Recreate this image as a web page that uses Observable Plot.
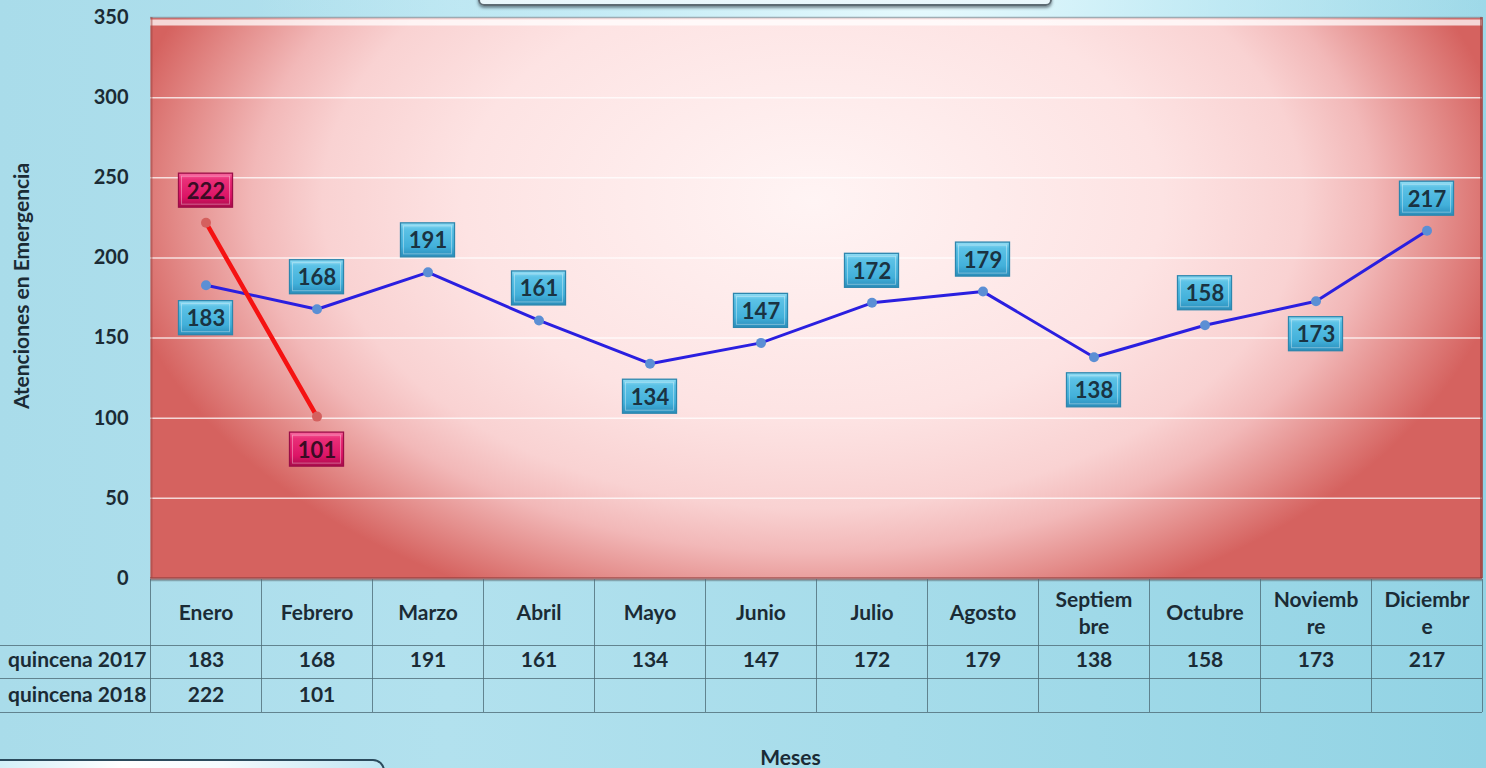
<!DOCTYPE html>
<html><head><meta charset="utf-8">
<script src="https://cdn.jsdelivr.net/npm/d3@7"></script>
<script src="https://cdn.jsdelivr.net/npm/@observablehq/plot@0.6"></script>
<style>
html,body{margin:0;padding:0;width:1486px;height:768px;overflow:hidden}
body{position:relative;font-family:Lato,sans-serif;
 background:
  radial-gradient(ellipse 45% 35% at 62% 0%, rgba(235,252,255,0.95) 0%, rgba(215,245,252,0.6) 45%, rgba(200,240,250,0) 100%),
  linear-gradient(90deg, #a9dcea 0%, #b2e1ee 30%, #a6dcea 60%, #92d3e4 100%);}
#chart{position:absolute;left:0;top:0}
#title-box{position:absolute;left:478px;top:-40px;width:570px;height:42px;border:2px solid #5d6b73;border-radius:6px;
 background:linear-gradient(180deg,#ffffff,#e8f6fb);box-shadow:0 2px 3px rgba(40,50,60,0.55)}
#legend-box{position:absolute;left:-20px;top:759px;width:401px;height:40px;border:2px solid #2b4a5c;border-radius:12px;
 background:linear-gradient(90deg,#cdeef8 0%,#ffffff 35%,#f4fbfe 60%,#bfe6f3 100%)}
</style></head><body>
<div id="title-box"></div>
<div id="chart"></div>
<div id="legend-box"></div>
<script>
// ---- data ----
const months = ["Enero","Febrero","Marzo","Abril","Mayo","Junio","Julio","Agosto","Septiembre","Octubre","Noviembre","Diciembre"];
const monthLabels = ["Enero","Febrero","Marzo","Abril","Mayo","Junio","Julio","Agosto","Septiem\nbre","Octubre","Noviemb\nre","Diciembr\ne"];
const values2017 = [183,168,191,161,134,147,172,179,138,158,173,217];
const values2018 = [222,101];
const side2017 = ["below","above","above","above","below","above","above","above","below","above","below","above"];
const side2018 = ["above","below"];
const rowLabels = ["quincena 2017","quincena 2018"];
const yTicks = [0,50,100,150,200,250,300,350];
const yTitle = "Atenciones en Emergencia";
const xTitle = "Meses";

// ---- derived ----
const pts2017 = values2017.map((v,i)=>({m:i+1, v, side:side2017[i]}));
const pts2018 = values2018.map((v,i)=>({m:i+1, v, side:side2018[i]}));
const ink = "#1b2b35";
const grid = yTicks.filter(t => t > 0 && t < 350);
const boundaries = d3.range(0, months.length + 1).map(i => i + 0.5);

function labelMarks(pts, fillId, strokeColor, textColor) {
  return ["above","below"].flatMap(side => {
    const d = pts.filter(p => p.side === side);
    const dy = side === "above" ? -32 : 33;
    return [
      Plot.rect(d, {x1:"m", x2:"m", y1:"v", y2:"v", insetLeft:-27, insetRight:-27, insetTop:-17, insetBottom:-17,
        dy, fill:`url(#${fillId})`, stroke:strokeColor, strokeWidth:1.3}),
      Plot.rect(d, {x1:"m", x2:"m", y1:"v", y2:"v", insetLeft:-24, insetRight:-24, insetTop:-14, insetBottom:-14,
        dy, fill:"none", stroke:"white", strokeOpacity:0.35, strokeWidth:1}),
      Plot.text(d, {x:"m", y:"v", text:p => String(p.v), dy:dy+1, fill:textColor, fontSize:22, fontWeight:"bold"})
    ];
  });
}

const rowOffsets = [67, 100, 134];
const cell = {frameAnchor:"bottom", lineAnchor:"middle", fill:ink, fontSize:21, fontWeight:"bold"};

const svg = Plot.plot({
  width: 1486, height: 768,
  marginLeft: 150, marginRight: 4, marginTop: 17, marginBottom: 190,
  style: {background:"transparent", fontFamily:"Lato, sans-serif", fontSize:"20px", fontWeight:"bold", color:ink, overflow:"visible"},
  x: {type:"linear", domain:[0.5, 12.5], axis:null},
  y: {domain:[0, 350], ticks:yTicks, tickSize:0, tickPadding:22, label:null},
  marks: [
    Plot.frame({fill:"url(#plotBg)", stroke:"none"}),
    Plot.ruleY(grid, {stroke:"white", strokeOpacity:0.75, strokeWidth:1.5}),
    Plot.ruleY([350], {stroke:"white", strokeOpacity:0.75, strokeWidth:6, dy:5}),
    Plot.ruleY([350], {stroke:"#8c9ca4", strokeOpacity:0.8, strokeWidth:1.5, dy:0}),
    Plot.ruleY([0], {stroke:"#8e3a38", strokeOpacity:0.55, strokeWidth:3, dy:0}),
    Plot.ruleY([0], {stroke:"#5a6a70", strokeOpacity:0.5, strokeWidth:1.5, dy:2}),
    Plot.ruleX([12.5], {stroke:"#8e3a38", strokeOpacity:0.6, strokeWidth:3, dx:-1}),
    Plot.ruleX([0.5], {stroke:"#9a4442", strokeOpacity:0.5, strokeWidth:2, dx:1}),
    // table grid
    ...rowOffsets.map(o => Plot.ruleY([0], {dy:o, insetLeft:-150, stroke:"#4f6d78", strokeOpacity:0.8, strokeWidth:1})),
    Plot.ruleX(boundaries, {insetTop:562, insetBottom:-134, stroke:"#4f6d78", strokeOpacity:0.8, strokeWidth:1}),
    // table text
    Plot.text(monthLabels, {...cell, x:(d,i)=>i+1, dy:33, lineHeight:1.3}),
    Plot.text(values2017, {...cell, x:(d,i)=>i+1, dy:82}),
    Plot.text(values2018, {...cell, x:(d,i)=>i+1, dy:117}),
    Plot.text([rowLabels[0]], {...cell, frameAnchor:"bottom-left", dx:-4, dy:82, textAnchor:"end"}),
    Plot.text([rowLabels[1]], {...cell, frameAnchor:"bottom-left", dx:-4, dy:117, textAnchor:"end"}),
    // titles
    Plot.text([yTitle], {frameAnchor:"left", textAnchor:"middle", lineAnchor:"middle", dx:-128, dy:-12, rotate:-90, fill:ink, fontSize:21, fontWeight:"bold"}),
    Plot.text([xTitle], {...cell, dx:-26, dy:180}),
    // series
    Plot.line(pts2017, {x:"m", y:"v", stroke:"#2a1fe0", strokeWidth:3}),
    Plot.dot(pts2017, {x:"m", y:"v", r:5, fill:"#5b8fd4", stroke:"none"}),
    Plot.line(pts2018, {x:"m", y:"v", stroke:"#f51212", strokeWidth:4.5}),
    Plot.dot(pts2018, {x:"m", y:"v", r:5, fill:"#d4605e", stroke:"none"}),
    ...labelMarks(pts2017, "blueBox", "#2d86ad", "#1a3342"),
    ...labelMarks(pts2018, "pinkBox", "#9c0d47", "#3a0c24")
  ]
});

const defs = d3.select(svg).insert("defs", ":first-child");
const bg = defs.append("radialGradient").attr("id","plotBg").attr("gradientUnits","userSpaceOnUse")
  .attr("cx",0).attr("cy",0).attr("r",1).attr("gradientTransform","translate(812,200) scale(700,440)");
[[0,"#fff4f4"],[0.5,"#fde3e3"],[0.7,"#f9d2d2"],[0.8,"#f2b8b8"],[0.9,"#e48e8c"],[1,"#d5625f"]]
  .forEach(([o,c]) => bg.append("stop").attr("offset",o).attr("stop-color",c));
const bb = defs.append("linearGradient").attr("id","blueBox").attr("x1",0).attr("y1",0).attr("x2",0).attr("y2",1);
[[0,"#93def5"],[0.18,"#5cc2e6"],[0.7,"#42b0da"],[1,"#2a8dba"]].forEach(([o,c]) => bb.append("stop").attr("offset",o).attr("stop-color",c));
const pb = defs.append("linearGradient").attr("id","pinkBox").attr("x1",0).attr("y1",0).attr("x2",0).attr("y2",1);
[[0,"#f86aa0"],[0.18,"#ea2f78"],[0.7,"#dc1466"],[1,"#a90c4c"]].forEach(([o,c]) => pb.append("stop").attr("offset",o).attr("stop-color",c));

document.getElementById("chart").appendChild(svg);
</script>
</body></html>
